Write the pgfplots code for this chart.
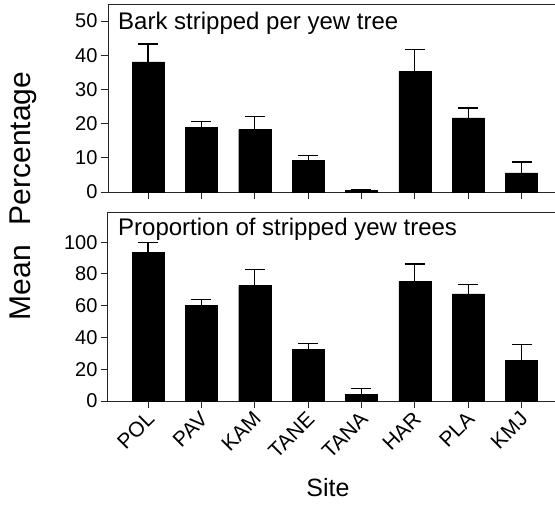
\documentclass[border=0pt]{standalone}
\usepackage{fontspec}
\setmainfont{Liberation Sans}
\usepackage{pgfplots}
\pgfplotsset{compat=1.18}
\usepackage{pgfplotstable}

% Bark stripped per yew tree (mean %, upper SE)
\pgfplotstableread{
x val err
0 38.1 5.2
1 19.0 1.6
2 18.3 3.7
3 9.3 1.3
4 0.5 0.3
5 35.2 6.6
6 21.7 2.9
7 5.6 3.2
}\barkdata

% Proportion of stripped yew trees (mean %, upper SE)
\pgfplotstableread{
x val err
0 93.5 6.5
1 60.2 3.6
2 72.6 10.2
3 32.5 3.8
4 4.4 3.6
5 75.5 10.7
6 67.5 6.1
7 25.4 10.4
}\propdata

\pgfplotsset{
  yewpanel/.style={
    scale only axis, width=447pt,
    xmin=-0.75, xmax=7.626, ymin=0,
    axis x line*=bottom, axis y line*=left,
    axis line style={line width=1pt, black!85},
    tick align=outside, major tick length=7pt,
    tick style={line width=1pt, black!85},
    xtick={0,...,7},
    ybar, bar width=0.6,
    tick label style={font=\fontsize{20}{24}\selectfont},
    /pgf/number format/assume math mode=true,
    clip=false,
  },
  yewbars/.style={
    fill=black, draw=black,
    error bars/.cd, y dir=plus, y explicit,
    error bar style={line width=1.2pt, black},
    error mark options={rotate=90, mark size=10pt, line width=1.2pt, black},
  },
}

\begin{document}
\begin{tikzpicture}
\useasboundingbox (0,0) rectangle (555pt,-514pt);

\begin{axis}[yewpanel, at={(108pt,-192pt)}, anchor=south west,
  height=188pt, ymax=55, ytick={0,10,...,50}, xticklabels={}]
  \addplot[yewbars] table[x=x, y=val, y error=err] {\barkdata};
  \draw[line width=1pt, black!85] (rel axis cs:0,1) -- (rel axis cs:1,1);
\end{axis}

\begin{axis}[yewpanel, at={(108pt,-401pt)}, anchor=south west,
  height=189pt, ymax=119, ytick={0,20,...,100},
  xticklabels={POL,PAV,KAM,TANE,TANA,HAR,PLA,KMJ},
  xticklabel style={xshift=5pt, yshift=-5pt, rotate=45, anchor=east,
    font=\fontsize{21}{25}\selectfont}]
  \addplot[yewbars] table[x=x, y=val, y error=err] {\propdata};
  \draw[line width=1pt, black!85] (rel axis cs:0,1) -- (rel axis cs:1,1);
\end{axis}

\node[anchor=base west, inner sep=0pt, font=\fontsize{24}{28}\selectfont] at (118pt,-29pt) {Bark stripped per yew tree};
\node[anchor=base west, inner sep=0pt, font=\fontsize{24}{28}\selectfont] at (118pt,-235pt) {Proportion of stripped yew trees};
\node[rotate=90, font=\fontsize{30}{36}\selectfont] at (23pt,-196pt) {Mean\hspace{20pt}Percentage};
\node[font=\fontsize{25}{30}\selectfont] at (328pt,-488pt) {Site};
\end{tikzpicture}
\end{document}
